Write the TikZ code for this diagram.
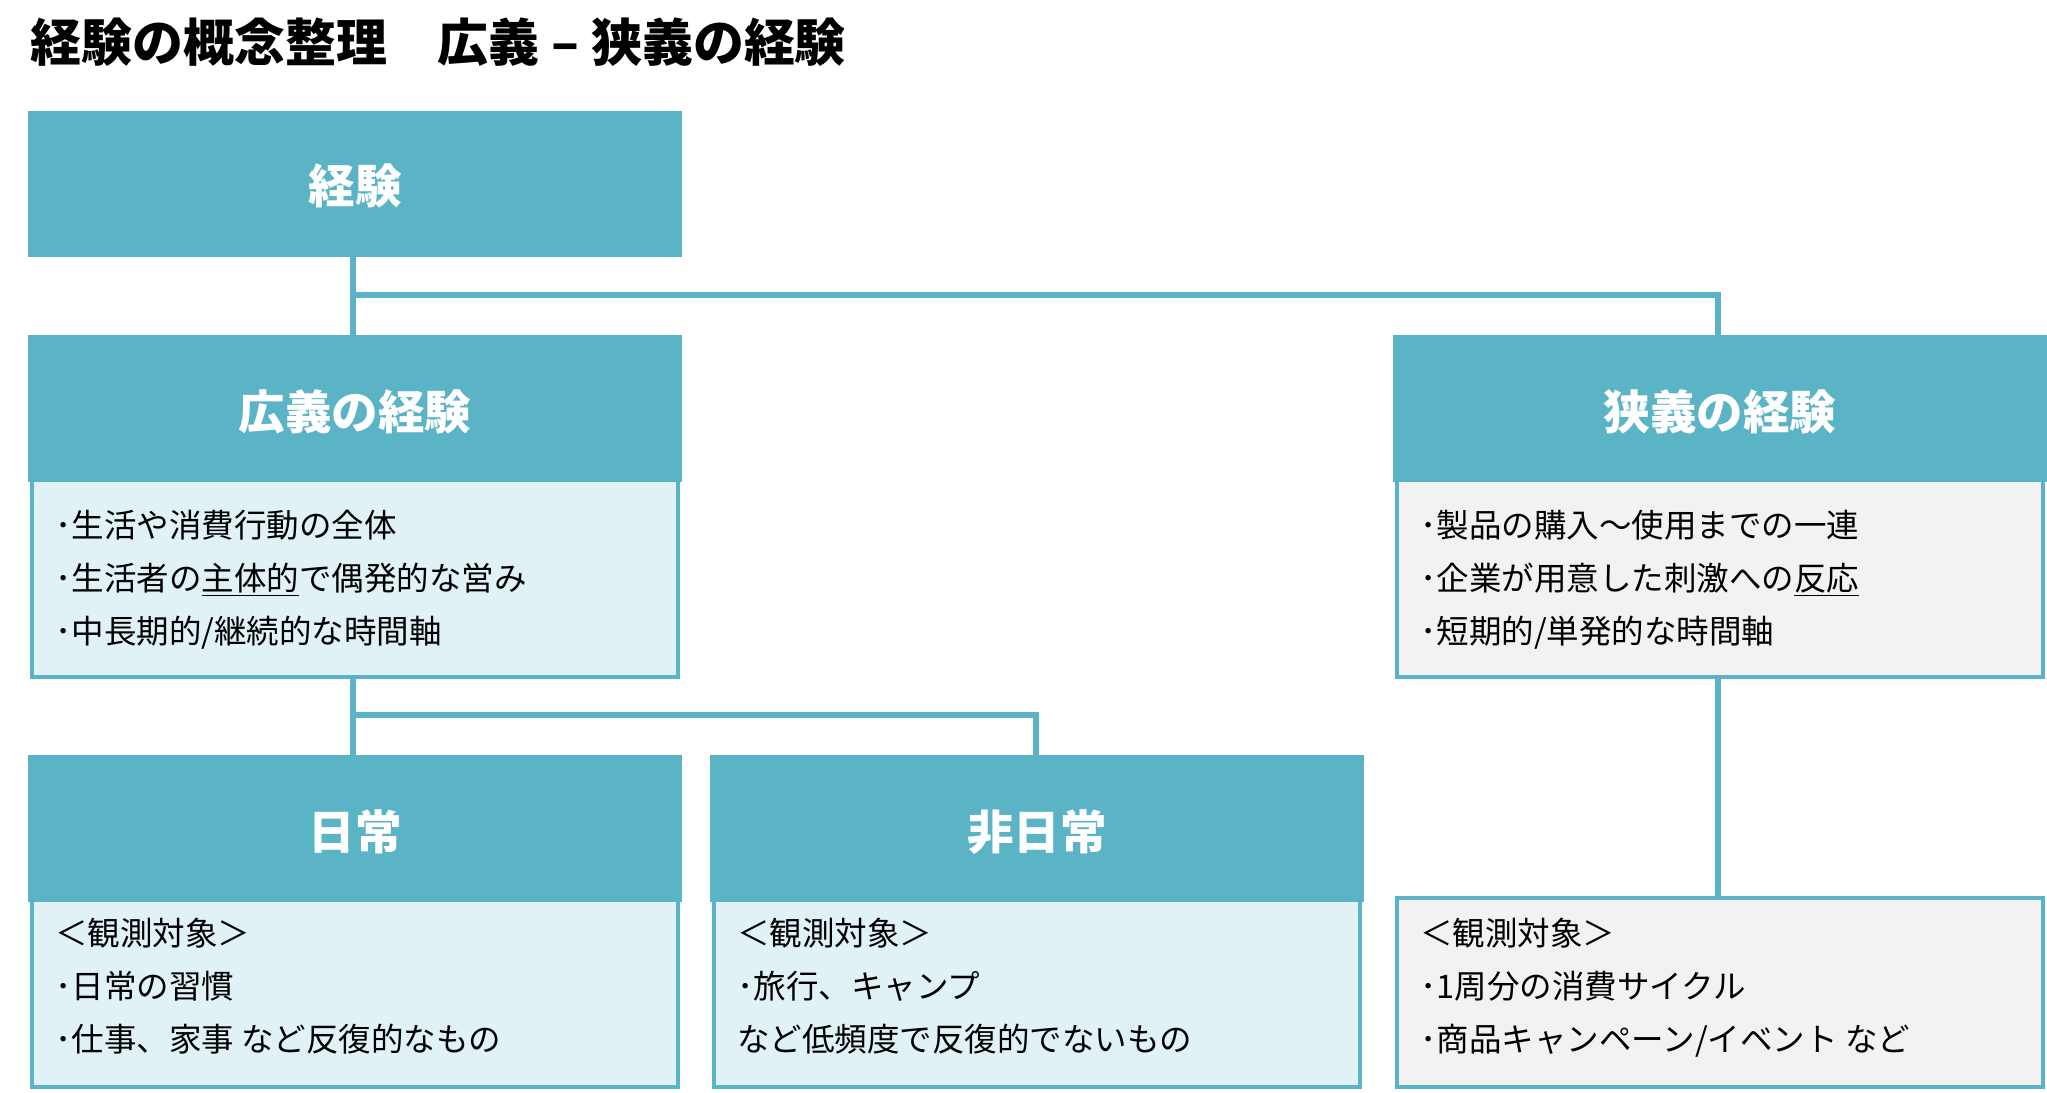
\documentclass[tikz,border=0pt]{standalone}
\usepackage{fontspec}
\setmainfont{Noto Sans CJK JP}
\definecolor{teal1}{HTML}{5BB4C5}
\definecolor{lightb}{HTML}{E0F2F6}
\definecolor{lightg}{HTML}{F2F2F2}
\begin{document}
\begin{tikzpicture}[x=0.02cm,y=-0.02cm,
  head/.style={fill=teal1,draw=teal1,line width=2pt},
  htxt/.style={text=white,font=\fontsize{26.5}{30}\selectfont\bfseries},
  bodyb/.style={fill=lightb,draw=teal1,line width=2.2pt},
  bodyg/.style={fill=lightg,draw=teal1,line width=2.2pt},
  txt/.style={anchor=north west,align=left,font=\fontsize{18.5}{30}\selectfont,inner sep=0pt},
  conn/.style={draw=teal1,line width=3pt}]
\useasboundingbox (0,0) rectangle (2047,1092);
\node[anchor=west,font=\fontsize{29}{32}\selectfont\bfseries,inner sep=0pt] (title) at (30,42) {経験の概念整理　広義 – 狭義の経験};
% top box
\path[head] (30,113) rectangle (680,255);
\node[htxt] (k) at (355,186) {経験};
% broad
\path[head] (30,337) rectangle (680,480);
\path[bodyb] (32,480) rectangle (678,677);
\node[htxt] (kg) at (355,412) {広義の経験};
\node[txt] (kgt) at (55,510) {･生活や消費行動の全体\\･生活者の\underline{主体的}で偶発的な営み\\･中長期的/継続的な時間軸};
% narrow
\path[head] (1395,337) rectangle (2045,480);
\path[bodyg] (1397,480) rectangle (2043,677);
\node[htxt] (kn) at (1720,412) {狭義の経験};
\node[txt] (knt) at (1420,510) {･製品の購入～使用までの一連\\･企業が用意した刺激への\underline{反応}\\･短期的/単発的な時間軸};
% daily
\path[head] (30,757) rectangle (680,900);
\path[bodyb] (32,900) rectangle (678,1087);
\node[htxt] (nj) at (355,832) {日常};
\node[txt] (njt) at (55,918) {＜観測対象＞\\･日常の習慣\\･仕事、家事 など反復的なもの};
% non-daily
\path[head] (712,757) rectangle (1362,900);
\path[bodyb] (714,900) rectangle (1360,1087);
\node[htxt] (hn) at (1037,832) {非日常};
\node[txt] (hnt) at (737,918) {＜観測対象＞\\･旅行、キャンプ\\など低頻度で反復的でないもの};
% narrow lower
\path[bodyg] (1397,898) rectangle (2043,1087);
\node[txt] (nlt) at (1420,918) {＜観測対象＞\\･1周分の消費サイクル\\･商品キャンペーン/イベント など};
% connectors
\coordinate (a1) at (353,255); \coordinate (a2) at (353,337);
\coordinate (b1) at (1718,295); \coordinate (b2) at (1718,337);
\draw[conn] (a1) -- (a2);
\draw[conn] (353,295) -- (b1) -- (b2);
\coordinate (c1) at (353,679); \coordinate (c2) at (353,757);
\coordinate (d1) at (1036,715); \coordinate (d2) at (1036,757);
\draw[conn] (c1) -- (c2);
\draw[conn] (353,715) -- (d1) -- (d2);
\coordinate (e1) at (1718,679); \coordinate (e2) at (1718,897);
\draw[conn] (e1) -- (e2);
\end{tikzpicture}
\end{document}
